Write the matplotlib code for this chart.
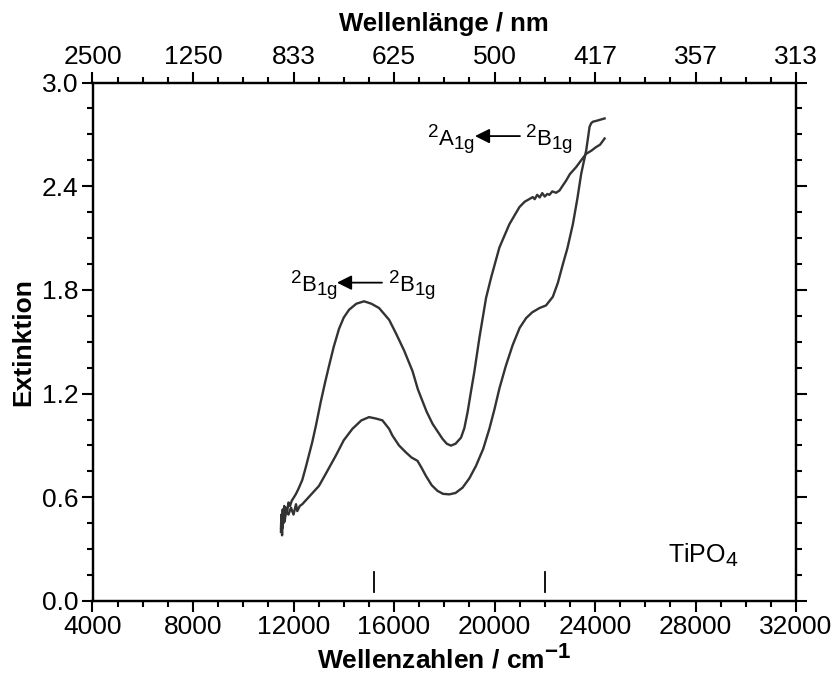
import numpy as np
import matplotlib
matplotlib.use("Agg")
import matplotlib.pyplot as plt
import matplotlib._mathtext as _mt
from matplotlib.ticker import MultipleLocator, FormatStrFormatter

_mt.SHRINK_FACTOR = 0.85

plt.rcParams['font.family'] = ['Liberation Sans', 'DejaVu Sans']
plt.rcParams['mathtext.fontset'] = 'custom'
plt.rcParams['mathtext.rm'] = 'Liberation Sans'
plt.rcParams['mathtext.it'] = 'Liberation Sans'
plt.rcParams['mathtext.bf'] = 'Liberation Sans:bold'

# ---- data ----
wn_upper = [11500, 11520, 11545, 11570, 11600, 11630, 11660, 11700, 11750, 11800, 11860,
            11930, 12017, 12100, 12200, 12349, 12500, 12748, 12900, 13081, 13250, 13413,
            13600, 13812, 14000, 14211, 14500, 14809, 15100, 15407, 15806, 16073, 16400,
            16737, 16950, 17070, 17300, 17535, 17932, 18100, 18267, 18450, 18666, 18800,
            18929, 19050, 19197, 19396, 19663, 19863, 20194, 20592, 20991, 21200, 21523,
            21600, 21700, 21800, 21900, 22000, 22100, 22188, 22300, 22450, 22587, 22700,
            22853, 23000, 23252, 23450, 23651, 23850, 24050, 24200, 24382]
ext_upper = [0.42, 0.50, 0.38, 0.53, 0.45, 0.55, 0.49, 0.54, 0.52, 0.57, 0.55,
             0.58, 0.60, 0.62, 0.65, 0.70, 0.78, 0.92, 1.02, 1.15, 1.26, 1.36,
             1.47, 1.575, 1.64, 1.685, 1.72, 1.734, 1.72, 1.695, 1.627, 1.55, 1.45,
             1.33, 1.225, 1.18, 1.095, 1.025, 0.938, 0.91, 0.899, 0.91, 0.945, 1.00,
             1.093, 1.20, 1.326, 1.52, 1.753, 1.87, 2.045, 2.18, 2.279, 2.31, 2.337,
             2.325, 2.35, 2.335, 2.36, 2.34, 2.355, 2.35, 2.37, 2.362, 2.375, 2.40,
             2.433, 2.47, 2.511, 2.55, 2.588, 2.605, 2.627, 2.64, 2.676]

wn_lower = [11500, 11530, 11560, 11600, 11650, 11700, 11800, 11900, 12000, 12100, 12150,
            12250, 12349, 12600, 13014, 13300, 13680, 14000, 14344, 14700, 15008, 15300,
            15540, 15806, 15938, 16200, 16472, 16700, 16935, 17100, 17270, 17500, 17733,
            17950, 18199, 18450, 18730, 19000, 19264, 19550, 19795, 20000, 20194, 20450,
            20724, 21000, 21259, 21500, 21789, 22050, 22321, 22520, 22720, 22900, 23119,
            23300, 23451, 23651, 23784, 23850, 23917, 24100, 24382]
ext_lower = [0.40, 0.48, 0.42, 0.50, 0.46, 0.52, 0.50, 0.54, 0.50, 0.56, 0.52,
             0.55, 0.56, 0.60, 0.666, 0.74, 0.84, 0.93, 0.996, 1.045, 1.064, 1.055,
             1.045, 0.996, 0.957, 0.90, 0.86, 0.83, 0.811, 0.77, 0.724, 0.67, 0.637,
             0.62, 0.617, 0.625, 0.656, 0.71, 0.782, 0.88, 0.996, 1.11, 1.229, 1.36,
             1.481, 1.58, 1.637, 1.67, 1.695, 1.71, 1.76, 1.84, 1.948, 2.04, 2.18,
             2.33, 2.472, 2.608, 2.744, 2.765, 2.773, 2.78, 2.792]

wn_ticks = [4000, 8000, 12000, 16000, 20000, 24000, 28000, 32000]
nm_labels = ['2500', '1250', '833', '625', '500', '417', '357', '313']
ext_ticks = [0.0, 0.6, 1.2, 1.8, 2.4, 3.0]
band_marks = [15200, 22000]

# ---- figure ----
fig = plt.figure(figsize=(8.36, 6.77), dpi=100)
ax = fig.add_axes([92.5 / 836, 76 / 677, (796 - 92.5) / 836, (601 - 82.5) / 677])

line_col = '#333333'
ax.plot(wn_upper, ext_upper, color=line_col, lw=1.7)
ax.plot(wn_lower, ext_lower, color=line_col, lw=1.7)

for b in band_marks:
    ax.plot([b, b], [0.05, 0.165], color='black', lw=1.3)

ax.set_xlim(4000, 32000)
ax.set_ylim(0, 3.0)
ax.set_xticks(wn_ticks)
ax.set_yticks(ext_ticks)
ax.xaxis.set_minor_locator(MultipleLocator(1000))
ax.yaxis.set_minor_locator(MultipleLocator(0.15))
ax.yaxis.set_major_formatter(FormatStrFormatter('%.1f'))

for s in ax.spines.values():
    s.set_linewidth(1.6)

ax.tick_params(which='both', direction='out', width=1.5, labelsize=19, right=True)
ax.tick_params(which='major', length=8, pad=2)
ax.tick_params(which='minor', length=4)

ax.set_xlabel(r'Wellenzahlen / cm$^{\mathbf{-1}}$', fontsize=19, fontweight='bold', labelpad=4)
ax.set_ylabel('Extinktion', fontsize=19, fontweight='bold', labelpad=5)

ax2 = ax.twiny()
ax2.set_xlim(ax.get_xlim())
ax2.set_xticks(wn_ticks)
ax2.set_xticklabels(nm_labels)
ax2.xaxis.set_minor_locator(MultipleLocator(1000))
ax2.tick_params(which='both', direction='out', width=1.5, labelsize=19)
ax2.tick_params(which='major', length=8, pad=2)
ax2.tick_params(which='minor', length=4)
ax2.set_xlabel('Wellenlänge / nm', fontsize=18.5, fontweight='bold', labelpad=10)
for s in ax2.spines.values():
    s.set_linewidth(1.6)

# annotations
arrow_kw = dict(arrowstyle='-|>', color='black', lw=1.3, mutation_scale=22,
                shrinkA=0, shrinkB=0)
ax.annotate('', xy=(13731, 1.842), xytext=(15522, 1.842), arrowprops=arrow_kw)
ax.text(13771, 1.79, r'$^{2}$B$_{1g}$', ha='right', va='baseline', fontsize=16)
ax.text(15761, 1.79, r'$^{2}$B$_{1g}$', ha='left', va='baseline', fontsize=16)

ax.annotate('', xy=(19223, 2.69), xytext=(21014, 2.69), arrowprops=arrow_kw)
ax.text(19223, 2.64, r'$^{2}$A$_{1g}$', ha='right', va='baseline', fontsize=16)
ax.text(21213, 2.64, r'$^{2}$B$_{1g}$', ha='left', va='baseline', fontsize=16)

ax.text(26905, 0.22, r'TiPO$_4$', ha='left', va='baseline', fontsize=18)

fig.savefig('out.png', dpi=100)
